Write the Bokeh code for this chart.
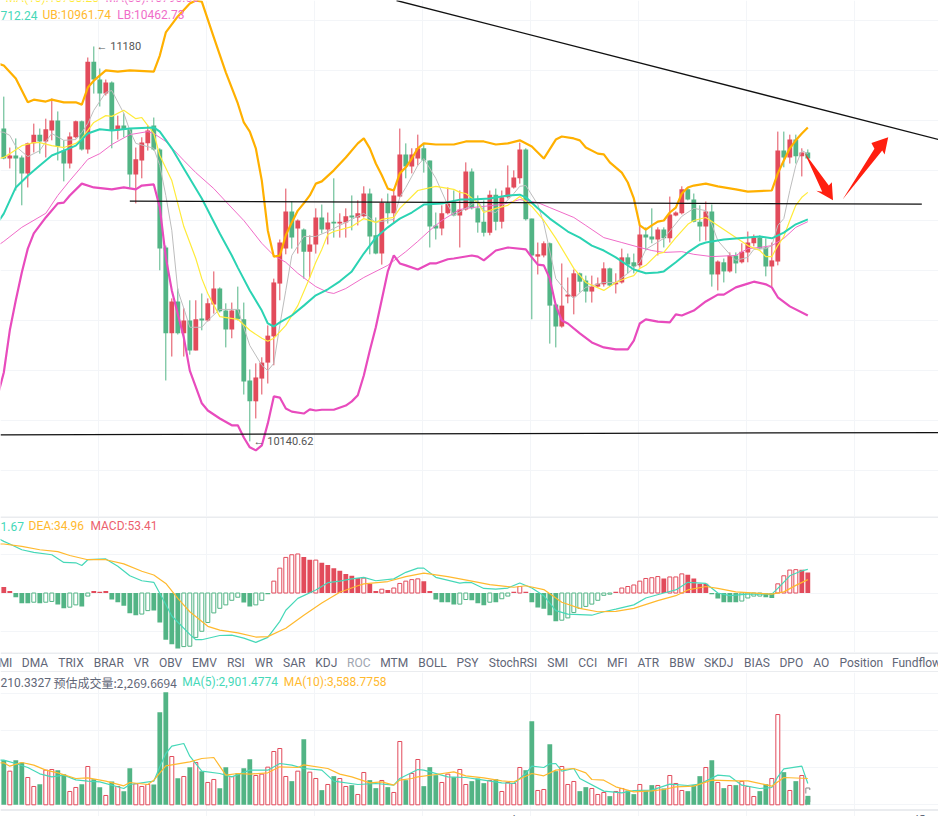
from bokeh.core.properties import value
from bokeh.plotting import figure
from bokeh.layouts import column
from bokeh.models import FixedTicker, Range1d, Span
from bokeh.embed import file_html
from bokeh.resources import INLINE

# candles, one per bar
opens = [10964, 10885, 10893, 10888, 10846, 10925, 10948, 10930, 10959, 10985,
         10906, 10872, 10941, 10983, 10909, 11140, 11093, 11056, 11085, 10959,
         10972, 10962, 10843, 10880, 10925, 10972, 10909, 10651, 10425, 10509,
         10425, 10459, 10380, 10464, 10459, 10501, 10543, 10485, 10435, 10488,
         10462, 10301, 10246, 10306, 10348, 10417, 10556, 10648, 10746, 10701,
         10698, 10640, 10659, 10730, 10698, 10719, 10714, 10717, 10735, 10730,
         10733, 10793, 10683, 10635, 10769, 10741, 10785, 10896, 10864, 10885,
         10912, 10880, 10709, 10701, 10741, 10772, 10735, 10751, 10851, 10754,
         10719, 10690, 10790, 10719, 10783, 10809, 10833, 10909, 10727, 10627,
         10630, 10662, 10501, 10443, 10522, 10522, 10583, 10564, 10535, 10548,
         10554, 10596, 10554, 10559, 10625, 10612, 10604, 10685, 10680, 10672,
         10698, 10675, 10735, 10741, 10804, 10777, 10719, 10706, 10746, 10580,
         10612, 10588, 10630, 10612, 10638, 10662, 10677, 10651, 10601, 10614,
         10906, 10888, 10935, 10891, 10901]
highs = [11048, 10914, 10938, 10893, 10927, 10977, 10964, 10990, 11043, 11009,
         10933, 10954, 10985, 10985, 11151, 11180, 11122, 11093, 11088, 10998,
         11004, 10964, 10914, 10941, 10972, 10993, 10912, 10656, 10517, 10543,
         10491, 10512, 10512, 10530, 10517, 10588, 10546, 10504, 10506, 10548,
         10506, 10330, 10346, 10362, 10446, 10569, 10672, 10806, 10772, 10725,
         10701, 10683, 10754, 10764, 10743, 10833, 10741, 10754, 10788, 10775,
         10812, 10806, 10730, 10780, 10793, 10806, 10964, 10925, 10912, 10948,
         10925, 10880, 10743, 10762, 10809, 10801, 10801, 10875, 10859, 10788,
         10775, 10801, 10806, 10801, 10867, 10854, 10927, 10912, 10727, 10664,
         10667, 10664, 10504, 10609, 10572, 10593, 10585, 10577, 10577, 10572,
         10612, 10598, 10583, 10648, 10635, 10635, 10709, 10704, 10754, 10704,
         10704, 10785, 10746, 10812, 10809, 10793, 10762, 10772, 10764, 10617,
         10622, 10638, 10638, 10662, 10693, 10685, 10683, 10675, 10664, 10956,
         10956, 10948, 10948, 10912, 10909]
lows = [10883, 10859, 10801, 10762, 10809, 10901, 10898, 10888, 10933, 10880,
        10825, 10859, 10938, 10906, 10898, 11056, 11022, 11051, 10912, 10935,
        10941, 10809, 10767, 10833, 10906, 10906, 10591, 10301, 10364, 10422,
        10364, 10369, 10380, 10433, 10456, 10477, 10480, 10388, 10412, 10459,
        10264, 10140.62, 10201, 10264, 10293, 10341, 10512, 10633, 10648, 10635,
        10569, 10572, 10635, 10688, 10659, 10677, 10677, 10677, 10696, 10709,
        10730, 10633, 10633, 10606, 10714, 10714, 10783, 10833, 10846, 10867,
        10848, 10651, 10672, 10683, 10738, 10733, 10651, 10748, 10751, 10690,
        10680, 10683, 10696, 10701, 10780, 10806, 10819, 10722, 10462, 10580,
        10625, 10398, 10388, 10440, 10504, 10475, 10533, 10506, 10506, 10546,
        10548, 10548, 10530, 10556, 10583, 10583, 10598, 10643, 10662, 10630,
        10651, 10664, 10733, 10738, 10775, 10717, 10667, 10669, 10548, 10538,
        10559, 10585, 10583, 10609, 10612, 10654, 10646, 10575, 10548, 10604,
        10862, 10872, 10872, 10838, 10883]
closes = [10885, 10893, 10885, 10846, 10925, 10948, 10930, 10962, 10985, 10917,
          10872, 10943, 10983, 10909, 11140, 11093, 11056, 11085, 10959, 10972,
          10962, 10843, 10883, 10927, 10959, 10909, 10648, 10425, 10509, 10425,
          10459, 10380, 10462, 10459, 10504, 10543, 10483, 10435, 10485, 10462,
          10298, 10246, 10309, 10348, 10419, 10559, 10664, 10746, 10677, 10722,
          10640, 10659, 10730, 10698, 10717, 10714, 10719, 10733, 10730, 10741,
          10793, 10680, 10635, 10769, 10741, 10788, 10896, 10864, 10896, 10912,
          10880, 10706, 10701, 10741, 10767, 10735, 10751, 10851, 10754, 10717,
          10690, 10790, 10719, 10783, 10809, 10835, 10909, 10725, 10630, 10633,
          10662, 10498, 10443, 10498, 10527, 10583, 10561, 10535, 10548, 10556,
          10596, 10551, 10559, 10625, 10606, 10601, 10685, 10677, 10672, 10698,
          10675, 10738, 10743, 10804, 10777, 10719, 10706, 10746, 10580, 10614,
          10588, 10630, 10609, 10640, 10664, 10677, 10648, 10601, 10617, 10906,
          10888, 10935, 10891, 10901, 10885]

# bollinger bands, read at the bars where the line bends (bar -1 is just off the left edge)
ub_bars = [-1, 0, 2, 4, 5, 7, 8, 10, 12, 13, 14, 15, 17, 19, 21, 25, 26, 27, 29, 31, 32, 33, 35, 37, 39, 40,
           41, 42, 43, 44, 45, 46, 47, 48, 49, 50, 51, 52, 53, 55, 57, 59, 60, 61, 62, 63, 64, 65, 66, 67,
           68, 69, 70, 72, 75, 77, 80, 82, 84, 86, 88, 90, 92, 93, 95, 96, 97, 99, 100, 101, 103, 104, 105,
           106, 107, 108, 109, 110, 111, 112, 113, 114, 115, 117, 119, 122, 124, 128, 129, 130, 131, 132, 133, 134]
ub_vals = [11135, 11130, 11096, 11033, 11040, 11035, 11040, 11033, 11033, 11027, 11072, 11090, 11117, 11114, 11117,
           11114, 11156, 11217, 11259, 11293, 11301, 11298, 11204, 11112, 11030, 10980, 10956, 10912, 10827,
           10696, 10627, 10630, 10683, 10717, 10748, 10767, 10788, 10819, 10825, 10854, 10888, 10925, 10938,
           10912, 10872, 10841, 10806, 10801, 10846, 10862, 10885, 10912, 10925, 10922, 10922, 10930, 10930,
           10922, 10925, 10933, 10917, 10885, 10935, 10943, 10938, 10933, 10914, 10898, 10896, 10875, 10848,
           10822, 10780, 10709, 10698, 10709, 10719, 10722, 10743, 10756, 10793, 10809, 10814, 10819, 10812,
           10804, 10798, 10801, 10846, 10880, 10912, 10933, 10951, 10967]
lb_bars = [-1, 0, 1, 2, 3, 4, 5, 7, 9, 10, 11, 13, 15, 18, 20, 22, 23, 25, 26, 27, 28, 30, 31, 33, 34, 36, 38, 39,
           40, 41, 42, 43, 44, 45, 46, 47, 48, 50, 51, 52, 53, 55, 57, 58, 59, 60, 61, 62, 63, 64, 65, 66, 67,
           69, 71, 72, 74, 75, 78, 79, 80, 82, 84, 87, 88, 89, 90, 91, 92, 93, 94, 96, 98, 100, 102, 104, 105,
           106, 107, 109, 111, 112, 113, 115, 117, 119, 120, 122, 124, 125, 127, 128, 129, 131, 134]
lb_vals = [10262, 10322, 10433, 10512, 10585, 10648, 10688, 10730, 10767, 10769, 10788, 10819, 10809, 10804, 10809,
           10804, 10814, 10817, 10756, 10625, 10538, 10414, 10327, 10241, 10222, 10201, 10183, 10183, 10151,
           10125, 10117, 10130, 10188, 10259, 10256, 10227, 10219, 10214, 10225, 10222, 10224, 10224, 10235,
           10246, 10262, 10314, 10380, 10441, 10514, 10588, 10630, 10609, 10604, 10593, 10609, 10609, 10620,
           10622, 10630, 10627, 10617, 10643, 10651, 10646, 10625, 10606, 10604, 10569, 10498, 10459, 10451,
           10425, 10401, 10388, 10383, 10383, 10406, 10451, 10462, 10456, 10454, 10475, 10472, 10485, 10509,
           10527, 10527, 10546, 10556, 10561, 10554, 10546, 10520, 10496, 10472]
mb_bars = [-1, 0, 2, 4, 6, 8, 10, 12, 14, 16, 18, 21, 25, 26, 28, 30, 33, 36, 38, 39, 41, 43, 44, 45, 46, 48, 50,
           52, 54, 56, 58, 60, 62, 64, 66, 68, 70, 73, 76, 78, 81, 84, 86, 87, 89, 91, 94, 96, 98, 100, 102,
           105, 107, 109, 110, 112, 114, 116, 117, 120, 124, 126, 128, 130, 132, 134]
mb_vals = [10717, 10740, 10809, 10840, 10867, 10893, 10906, 10919, 10951, 10962, 10959, 10964, 10967, 10956, 10912,
           10859, 10780, 10688, 10630, 10598, 10538, 10485, 10451, 10443, 10454, 10472, 10498, 10525, 10541,
           10562, 10588, 10635, 10677, 10704, 10727, 10743, 10764, 10767, 10777, 10777, 10780, 10788, 10790,
           10783, 10754, 10727, 10693, 10677, 10656, 10643, 10625, 10593, 10583, 10585, 10588, 10612, 10638,
           10659, 10664, 10672, 10677, 10680, 10675, 10690, 10712, 10725]

# moving averages
ma5_bars = [-1, 0, 1, 2, 4, 6, 7, 8, 10, 12, 13, 14, 15, 17, 18, 20, 21, 22, 25, 26, 27, 28, 29, 30, 31, 33, 34, 36,
            39, 41, 43, 44, 45, 46, 47, 48, 50, 52, 54, 56, 60, 62, 65, 66, 67, 69, 70, 72, 74, 75, 77, 79, 80,
            82, 85, 86, 87, 89, 90, 92, 94, 95, 97, 100, 102, 104, 106, 107, 110, 113, 115, 117, 118, 119, 121,
            122, 124, 125, 127, 128, 129, 130, 131, 132, 133, 134]
ma5_vals = [10956, 10954, 10946, 10917, 10890, 10906, 10930, 10951, 10933, 10935, 10954, 10977, 11012, 11059, 11064,
            11004, 10959, 10925, 10912, 10867, 10788, 10696, 10538, 10491, 10441, 10441, 10459, 10488, 10488,
            10393, 10341, 10327, 10346, 10446, 10538, 10630, 10680, 10680, 10693, 10709, 10741, 10717, 10725,
            10783, 10809, 10867, 10885, 10833, 10762, 10735, 10754, 10775, 10748, 10743, 10793, 10812, 10814,
            10764, 10714, 10569, 10530, 10517, 10546, 10559, 10559, 10583, 10612, 10646, 10675, 10733, 10754,
            10748, 10712, 10669, 10633, 10617, 10625, 10646, 10648, 10656, 10709, 10727, 10801, 10867, 10906, 10898]
ma10_bars = [-1, 0, 1, 3, 5, 6, 8, 10, 12, 13, 14, 15, 17, 18, 20, 22, 23, 25, 26, 28, 30, 32, 33, 34, 36, 39, 41,
             43, 44, 45, 47, 49, 51, 52, 53, 54, 55, 58, 60, 62, 63, 65, 66, 69, 72, 75, 76, 77, 79, 80, 82, 84,
             86, 88, 90, 92, 95, 97, 100, 102, 104, 105, 106, 107, 109, 110, 112, 114, 115, 117, 119, 122, 124,
             126, 127, 128, 129, 130, 131, 132, 133, 134]
ma10_vals = [10885, 10888, 10898, 10919, 10927, 10927, 10919, 10914, 10925, 10938, 10959, 10980, 10998, 10996, 11012,
             10990, 10993, 10951, 10893, 10827, 10706, 10622, 10569, 10530, 10469, 10462, 10433, 10412, 10404,
             10412, 10446, 10498, 10572, 10612, 10646, 10685, 10693, 10706, 10727, 10717, 10725, 10730, 10754,
             10801, 10812, 10804, 10796, 10793, 10769, 10743, 10754, 10762, 10785, 10759, 10722, 10675, 10596,
             10559, 10538, 10559, 10572, 10577, 10596, 10604, 10635, 10638, 10677, 10712, 10722, 10730, 10709,
             10677, 10656, 10643, 10627, 10627, 10656, 10680, 10722, 10762, 10783, 10796]
ma30_bars = [-1, 0, 3, 7, 9, 11, 13, 14, 16, 18, 21, 24, 25, 27, 30, 32, 35, 37, 40, 43, 45, 47, 49, 52, 54, 55, 57,
             60, 64, 67, 69, 71, 73, 76, 78, 83, 86, 89, 91, 95, 97, 100, 103, 106, 108, 110, 113, 115, 118, 122,
             124, 126, 128, 130, 132, 134]
ma30_vals = [10656, 10667, 10704, 10741, 10788, 10827, 10864, 10883, 10898, 10922, 10948, 10956, 10951, 10930, 10880,
             10848, 10806, 10772, 10722, 10662, 10630, 10612, 10583, 10548, 10533, 10530, 10543, 10572, 10604,
             10640, 10667, 10696, 10722, 10751, 10756, 10764, 10777, 10769, 10756, 10730, 10709, 10677, 10664,
             10651, 10643, 10638, 10640, 10633, 10627, 10630, 10648, 10651, 10656, 10675, 10704, 10719]

# trend lines and the two hand drawn arrows
trend_a_bars = [65.45, 155.8]
trend_a_vals = [11301, 10935]
trend_b_bars = [21, 153]
trend_b_vals = [10773, 10765]
trend_c_bars = [-0.55, 155.8]
trend_c_vals = [10158, 10164]
arrow_down_bars = [133.45, 137.5, 138.0, 138.2, 135.4, 136.4]
arrow_down_vals = [10900, 10814, 10823, 10775, 10800, 10798]
arrow_up_bars = [139.8, 145.1, 144.6, 147.4, 146.8, 146.4]
arrow_up_vals = [10777, 10911, 10926, 10941, 10896, 10906]

# macd
macd_hist = [16, 5, -11, -27, -27, -24, -27, -24, -22, -30,
             -40, -37, -31, -35, -8, 5, 3, 5, -17, -24,
             -33, -53, -58, -55, -46, -46, -77, -122, -134, -145,
             -140, -139, -116, -100, -77, -52, -40, -31, -19, -11,
             -25, -35, -31, -19, -3, 31, 65, 93, 100, 102,
             94, 87, 86, 79, 73, 65, 58, 50, 45, 39,
             39, 24, 5, 10, 8, 13, 25, 31, 35, 37,
             31, 5, -17, -24, -24, -30, -29, -17, -19, -27,
             -32, -24, -24, -15, -8, 3, 17, 3, -24, -38,
             -41, -58, -74, -71, -65, -51, -40, -35, -29, -19,
             -6, -3, 3, 13, 17, 21, 31, 38, 40, 43,
             38, 42, 42, 50, 48, 38, 24, 24, -3, -14,
             -24, -24, -24, -21, -13, -8, -8, -11, -13, 24,
             45, 60, 61, 61, 53.41]
macd_hollow = [0, 0, 0, 0, 0, 1, 0, 1, 1, 0,
               0, 1, 1, 0, 1, 0, 0, 0, 0, 0,
               0, 0, 0, 1, 1, 0, 0, 0, 0, 0,
               1, 1, 1, 1, 1, 1, 1, 1, 1, 1,
               0, 0, 1, 1, 0, 1, 1, 1, 1, 1,
               0, 0, 1, 0, 0, 0, 0, 0, 0, 0,
               1, 0, 0, 1, 0, 1, 1, 1, 1, 1,
               0, 0, 0, 0, 0, 0, 1, 1, 0, 0,
               0, 1, 0, 1, 1, 0, 1, 0, 0, 0,
               0, 0, 0, 1, 1, 1, 1, 1, 1, 1,
               1, 1, 0, 1, 1, 1, 1, 1, 1, 1,
               0, 1, 1, 1, 0, 0, 0, 0, 0, 0,
               0, 0, 0, 1, 1, 1, 1, 0, 0, 1,
               1, 1, 1, 0, 0]
dif_bars = [-1, 0, 1, 3, 5, 8, 10, 12, 13, 14, 17, 19, 21, 23, 25, 27, 28, 31, 32, 33, 36, 38, 40, 42, 44, 46, 47, 49,
            52, 54, 56, 58, 60, 62, 65, 67, 69, 70, 72, 76, 77, 78, 80, 82, 84, 86, 88, 90, 92, 94, 98, 100, 102,
            105, 107, 110, 112, 114, 117, 119, 121, 124, 128, 129, 131, 133, 134]
dif_vals = [143, 135, 128, 113, 106, 100, 80, 79, 72, 87, 89, 70, 45, 32, 28, -30, -60, -108, -122, -122, -111, -110,
            -118, -129, -116, -74, -45, -14, 8, 27, 31, 37, 41, 32, 37, 54, 65, 65, 41, 26, 28, 27, 12, 10, 13, 26,
            13, -7, -46, -55, -58, -49, -42, -31, -13, 0, 8, 28, 25, 0, -7, -3, -3, 12, 45, 58, 61.67]
dea_bars = [-1, 0, 3, 6, 9, 11, 14, 17, 20, 23, 25, 27, 29, 31, 34, 36, 39, 42, 44, 47, 50, 53, 56, 59, 60, 64, 67, 70,
            74, 78, 81, 85, 87, 90, 93, 96, 99, 102, 105, 109, 112, 114, 117, 119, 122, 128, 130, 132, 134]
dea_vals = [128, 128, 122, 113, 108, 98, 87, 87, 76, 57, 47, 25, -14, -49, -87, -97, -104, -115, -114, -92, -58, -26, 2,
            19, 24, 30, 43, 52, 43, 31, 22, 15, 19, 9, -24, -40, -49, -48, -40, -20, -7, 8, 17, 12, 3, -3, 3, 20,
            34.96]

# volume
volumes = [6030, 4545, 6030, 5715, 3690, 2475, 2790, 4680, 4770, 4680,
           4140, 1800, 2340, 2790, 5175, 3465, 2385, 1260, 3150, 2475,
           1845, 4950, 2835, 2475, 2745, 2745, 12510, 15210, 6525, 3600,
           3825, 5085, 5715, 4545, 3015, 3420, 2250, 5085, 3825, 4275,
           4950, 6165, 3960, 4140, 5085, 7200, 7605, 3825, 3195, 4545,
           8865, 4410, 3555, 1980, 2745, 3870, 3555, 2475, 2655, 1395,
           4365, 3330, 2250, 3285, 2385, 1665, 8550, 3330, 4230, 6120,
           2520, 5085, 4005, 3015, 4140, 3735, 4770, 2745, 3195, 3555,
           2925, 3285, 3465, 1800, 3015, 2880, 5040, 4680, 11295, 1935,
           2070, 8190, 4545, 5175, 2745, 3150, 1845, 2385, 2205, 1395,
           1665, 1170, 1800, 2205, 1935, 1440, 2745, 1935, 2655, 2610,
           2205, 3960, 2880, 1935, 1845, 2655, 3870, 5040, 6030, 3015,
           2250, 2610, 2655, 3150, 2475, 1125, 1845, 2790, 3555, 12195,
           4410, 1935, 3195, 3960, 1210.33]
vol_estimate = 2269.67
vol_ma5_bars = [-1, 0, 2, 4, 6, 8, 10, 12, 14, 16, 20, 21, 25, 26, 27, 28, 30, 31, 33, 36, 38, 41, 44, 46, 48, 50, 53,
                55, 59, 62, 65, 66, 69, 70, 74, 77, 80, 83, 85, 87, 88, 90, 91, 92, 93, 95, 96, 100, 103, 105, 108,
                111, 114, 116, 117, 119, 121, 123, 126, 128, 129, 130, 133, 134]
vol_ma5_vals = [6030, 6030, 5580, 5040, 4185, 3780, 4005, 3375, 3195, 3105, 2205, 2745, 3195, 5130, 6930, 7920, 8280,
                6570, 4545, 4230, 3780, 4680, 4680, 5580, 5355, 4905, 4680, 3195, 2745, 2880, 2655, 3555, 4770,
                4680, 3780, 3690, 3330, 2970, 2880, 4230, 5220, 5040, 5535, 5580, 4545, 4905, 3555, 1845, 1620,
                1935, 1980, 2790, 2610, 2790, 3195, 4005, 3870, 2655, 2205, 2340, 3780, 4860, 5220, 2880]
vol_ma10_bars = [-1, 0, 1, 3, 5, 7, 9, 12, 14, 17, 20, 21, 24, 25, 27, 31, 33, 35, 37, 39, 41, 44, 46, 49, 50, 54, 56,
                 58, 61, 63, 65, 66, 68, 69, 72, 75, 77, 80, 83, 85, 88, 90, 92, 95, 97, 98, 100, 102, 105, 108,
                 110, 112, 115, 118, 122, 124, 128, 130, 134]
vol_ma10_vals = [5670, 5670, 5220, 5715, 5355, 4680, 4320, 3555, 3645, 3195, 2565, 3015, 2745, 3330, 5265, 5805, 6255,
                 6390, 4005, 4230, 4140, 4320, 5130, 5040, 5400, 4905, 4140, 3780, 2970, 3105, 2655, 3330, 3555,
                 3780, 4095, 4455, 3915, 3645, 3240, 3105, 4230, 3915, 4680, 4905, 4320, 3420, 3330, 2430, 1755,
                 1890, 2070, 2430, 2520, 3330, 3240, 3240, 2520, 3690, 3555]

tab_labels = ["MI", "DMA", "TRIX", "BRAR", "VR", "OBV", "EMV", "RSI", "WR", "SAR", "KDJ", "ROC", "MTM", "BOLL",
              "PSY", "StochRSI", "SMI", "CCI", "MFI", "ATR", "BBW", "SKDJ", "BIAS", "DPO", "AO", "Position", "Fundflow"]
tab_px = [5, 34.5, 70.5, 108.3, 140.8, 170, 204, 235.3, 263.3, 293.7, 325.8, 358.3, 393.7, 432,
          467, 512.5, 557.3, 587.2, 616.8, 647.8, 681.5, 718.2, 756.5, 790.8, 820.8, 860.8, 916]

RED = "#E24B5B"
GREEN = "#52B485"
TEAL = "#2BD3B3"
TEAL_THIN = "#46D8B8"
ORANGE = "#FFB000"
ORANGE_THIN = "#FFB92E"
MAGENTA = "#E84BBD"
PINK = "#F06CC8"
YELLOW = "#FFEB3B"
GRAY = "#BDBDBD"
GRID = "#F3F5F8"
RULE = "#EAECEF"
FONT = value("Roboto")
CJK_FONT = value("Noto Sans CJK SC")

bars = list(range(len(opens)))
x_range = Range1d(-0.55, 155.78)
grid_bars = [15.83 + 18 * k for k in range(8)]


def panel(height, y0, y1, grid_vals):
    p = figure(width=938, height=height, x_range=x_range, y_range=Range1d(y0, y1),
               output_backend="svg", toolbar_location=None, min_border=0)
    p.axis.visible = False
    p.outline_line_color = None
    p.xgrid.ticker = FixedTicker(ticks=grid_bars)
    p.ygrid.ticker = FixedTicker(ticks=grid_vals)
    p.grid.grid_line_color = GRID
    return p


def label(p, px, y, text, color, size="12px", font=FONT):
    p.text([(px - 3.3) / 6], [y], text=[text], text_color=color, text_font=font,
           text_font_size=size, text_baseline="middle", text_align="left")


# price panel
main = panel(516, 9943, 11301, [11249, 11117, 10985, 10854, 10722, 10591, 10459, 10327, 10196, 10064])
colors = [RED if c >= o else GREEN for o, c in zip(opens, closes)]
main.segment(bars, lows, bars, highs, color=colors, line_width=1)
main.vbar(bars, 0.8, [min(a, b) for a, b in zip(opens, closes)], [max(a, b) for a, b in zip(opens, closes)],
          fill_color=colors, line_color=None)
main.line(ma30_bars, ma30_vals, color=PINK, line_width=1)
main.line(ma5_bars, ma5_vals, color=GRAY, line_width=1)
main.line(ma10_bars, ma10_vals, color=YELLOW, line_width=1.2)
main.line(mb_bars, mb_vals, color=TEAL, line_width=2)
main.line(ub_bars, ub_vals, color=ORANGE, line_width=2.2)
main.line(lb_bars, lb_vals, color=MAGENTA, line_width=2.2)
main.line(trend_a_bars, trend_a_vals, color="#111111", line_width=1.3)
main.line(trend_b_bars, trend_b_vals, color="#111111", line_width=1.3)
main.line(trend_c_bars, trend_c_vals, color="#111111", line_width=1.3)
main.patch(arrow_down_bars, arrow_down_vals, color="#FF1F10", line_width=0)
main.patch(arrow_up_bars, arrow_up_vals, color="#FF1F10", line_width=0)
label(main, 96, 11180, "← 11180", "#555555", "11px")
label(main, 253, 10140.62, "← 10140.62", "#555555", "11px")
label(main, 5, 11308, "MA(10):10788.28", YELLOW)
label(main, 105, 11308, "MA(30):10790.66", PINK)
label(main, 0, 11262, "712.24", TEAL_THIN)
label(main, 42, 11262, "UB:10961.74", ORANGE_THIN)
label(main, 116.7, 11262, "LB:10462.73", PINK)

# macd panel
macd = panel(136, -155.4, 199.9, [-100, 0, 100])
macd.add_layout(Span(location=198.5, dimension="width", line_color=RULE, line_width=2))
hist_colors = [RED if v > 0 else GREEN for v in macd_hist]
hist_fill = ["#FFFFFF" if h else c for h, c in zip(macd_hollow, hist_colors)]
macd.vbar(bars, [0.66 if h else 0.8 for h in macd_hollow], [0] * len(bars), macd_hist,
          fill_color=hist_fill, line_color=[c if h else None for h, c in zip(macd_hollow, hist_colors)],
          line_width=1)
macd.line(dif_bars, dif_vals, color=TEAL_THIN, line_width=1.2)
macd.line(dea_bars, dea_vals, color=ORANGE_THIN, line_width=1.2)
label(macd, 0, 175, "1.67", TEAL_THIN)
label(macd, 28, 175, "DEA:34.96", ORANGE_THIN)
label(macd, 90, 175, "MACD:53.41", "#EC5F6E")

# indicator tabs
tabs = figure(width=938, height=20, x_range=Range1d(0, 938), y_range=Range1d(0, 20),
              output_backend="svg", toolbar_location=None, min_border=0)
tabs.axis.visible = False
tabs.grid.visible = False
tabs.outline_line_color = None
tabs.add_layout(Span(location=0.5, dimension="width", line_color=RULE, line_width=2))
tabs.add_layout(Span(location=19.5, dimension="width", line_color=RULE, line_width=2))
tab_colors = ["#A0A5B0" if t == "ROC" else "#5F6677" for t in tab_labels]
tabs.text(tab_px, [9.5] * len(tab_px), text=tab_labels, text_color=tab_colors, text_font=FONT,
          text_font_size="12px", text_align="center", text_baseline="middle")

# volume panel
vol = panel(144, -1581, 17874, [0, 5000, 10000, 15000])
vol.add_layout(Span(location=-702, dimension="width", line_color=RULE, line_width=2))
vol_colors = [RED if c >= o else GREEN for o, c in zip(opens, closes)]
vol_fill = ["#FFFFFF" if c == RED else c for c in vol_colors]
vol_line = [c if c == RED else None for c in vol_colors]
vol.vbar([bars[-1]], 0.66, [0], [vol_estimate], fill_color="#FFFFFF", line_color="#888888",
         line_dash="dashed", line_width=1)
vol.vbar(bars, [0.66 if c == RED else 0.8 for c in vol_colors], [0] * len(bars), volumes,
         fill_color=vol_fill, line_color=vol_line, line_width=1)
vol.line(vol_ma5_bars, vol_ma5_vals, color=TEAL_THIN, line_width=1.2)
vol.line(vol_ma10_bars, vol_ma10_vals, color=ORANGE_THIN, line_width=1.2)
label(vol, 0, 16590, "210.3327", "#5F6677")
label(vol, 53, 16590, "预估成交量:2,269.6694", "#5F6677", font=CJK_FONT)
label(vol, 181.7, 16590, "MA(5):2,901.4774", TEAL_THIN)
label(vol, 283.3, 16590, "MA(10):3,588.7758", ORANGE_THIN)
vol.text([(px - 3.3) / 6 for px in tab_px], [-2190] * len(tab_px), text=tab_labels, text_color=tab_colors,
         text_font=FONT, text_font_size="12px", text_align="center", text_baseline="middle")

page = column(main, macd, tabs, vol, spacing=0)
open("out.html", "w").write(file_html(page, INLINE))
